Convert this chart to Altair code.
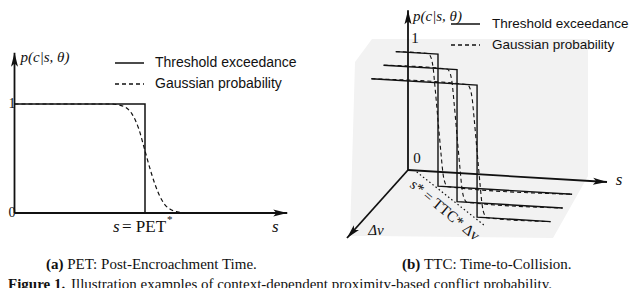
import altair as alt
import pandas as pd

# ---------------- values ----------------
SERIES = ["Threshold exceedance", "Gaussian probability"]

# (a) PET panel: s measured in units of PET*, p = p(c|s,theta)
PET_STAR = 1.0
A_THRESH_S = [0.0, 1.0, 1.0]
A_THRESH_P = [1.0, 1.0, 0.0]
A_GAUSS_S = [0.0, 0.75, 0.80, 0.85, 0.90, 0.95, 1.00, 1.05, 1.10, 1.15, 1.20, 1.25, 1.30]
A_GAUSS_P = [1.0, 1.0, 0.99, 0.97, 0.91, 0.78, 0.57, 0.36, 0.19, 0.08, 0.03, 0.01, 0.0]
A_S_MAX = 2.09
A_P_MAX = 1.47

# (b) TTC panel: three delta-v slices (s, dv, p in relative units)
B_DV = [0.2, 0.4, 0.6]
B_S_STAR = [0.212, 0.369, 0.531]
B_S_END = [0.886, 0.90, 0.90]
B_GAUSS_S = [
    [0.0, 0.162, 0.177, 0.187, 0.197, 0.212, 0.227, 0.237, 0.247, 0.262, 0.886],
    [0.0, 0.319, 0.334, 0.344, 0.354, 0.369, 0.384, 0.394, 0.404, 0.419, 0.900],
    [0.0, 0.481, 0.496, 0.506, 0.516, 0.531, 0.546, 0.556, 0.566, 0.581, 0.900],
]
B_GAUSS_P = [1.0, 1.0, 0.97, 0.90, 0.75, 0.50, 0.25, 0.10, 0.03, 0.0, 0.0]
B_TTC_LINE_S = [0.05, 0.61]
B_TTC_LINE_DV = [0.02, 0.72]
B_AXIS_MAX = {"s": 1.0, "dv": 1.0, "p": 1.21}

# light grey box behind panel (b), in projected units
BOX_X = [-58, -53, -36, 145, 180]
BOX_TOP = [-66, 108, 131, 131, 131]
BOX_BOT = [-66, -66, -66, -68, -6]

CAPTION_A = ("(a)", "PET: Post-Encroachment Time.")
CAPTION_B = ("(b)", "TTC: Time-to-Collision.")
FIG_TEXT = ("Figure 1.", "Illustration examples of context-dependent proximity-based conflict probability.")

# ---------------- styling ----------------
W, H = 624, 280
INK = "#111111"
SERIF = "Liberation Serif"
SANS = "Liberation Sans"
ARROW = "M0,0L-0.5,2L0,1.55L0.5,2Z"
DASH = [4, 3]


def lin_scale(origin_px, px_per_unit, length, flip=False):
    if flip:
        lo = -(length - origin_px) / px_per_unit
        hi = origin_px / px_per_unit
    else:
        lo = -origin_px / px_per_unit
        hi = (length - origin_px) / px_per_unit
    return alt.Scale(domain=[lo, hi], nice=False, zero=False)


# ---------------- panel (a) ----------------
A_XS = lin_scale(6.5, 130.5, W)
A_YS = lin_scale(205, 109, H, flip=True)
AX = alt.X("s:Q", scale=A_XS, axis=None)
AY = alt.Y("p:Q", scale=A_YS, axis=None)

a_axes = pd.DataFrame({
    "axis": ["p", "p", "s", "s"],
    "i": [0, 1, 0, 1],
    "s": [0, 0, 0, A_S_MAX],
    "p": [0, A_P_MAX, 0, 0],
})
a_arrows = pd.DataFrame({"s": [0, A_S_MAX], "p": [A_P_MAX, 0], "ang": [0, 90]})
a_thr = pd.DataFrame({"s": A_THRESH_S, "p": A_THRESH_P, "i": range(len(A_THRESH_S))})
a_gau = pd.DataFrame({"s": A_GAUSS_S, "p": A_GAUSS_P, "i": range(len(A_GAUSS_S))})
a_anchor = pd.DataFrame({"s": [PET_STAR], "p": [0.0]})
a_ticks = pd.DataFrame({"s": [A_XS.domain[0]] * 2, "p": [1.0, 0.0], "t": ["1", "0"]})

panel_a = alt.layer(
    alt.Chart(a_axes).mark_line(color=INK, strokeWidth=1.8).encode(AX, AY, detail="axis:N", order="i:Q"),
    alt.Chart(a_arrows).mark_point(shape=ARROW, filled=True, size=196, color=INK, opacity=1, strokeWidth=0)
    .encode(AX, AY, angle=alt.Angle("ang:Q", scale=None)),
    alt.Chart(a_gau).mark_line(color=INK, strokeWidth=1.2, strokeDash=DASH, interpolate="monotone")
    .encode(AX, AY, order="i:Q"),
    alt.Chart(a_thr).mark_line(color=INK, strokeWidth=1.5).encode(AX, AY, order="i:Q"),
    alt.Chart(a_ticks).mark_text(font=SERIF, fontSize=14, align="left", baseline="middle", dx=0.5, color=INK)
    .encode(AX, AY, text="t:N"),
    alt.Chart(pd.DataFrame({"s": [0.0], "p": [A_P_MAX]})).mark_text(
        font=SERIF, fontSize=15, fontStyle="italic", align="left", baseline="middle", dx=6, dy=4, color=INK)
    .encode(AX, AY, text=alt.value("p(c|s, θ)")),
    alt.Chart(a_anchor).mark_text(font=SERIF, fontSize=17, fontStyle="italic", align="left",
                                  baseline="middle", dx=-32, dy=14, color=INK).encode(AX, AY, text=alt.value("s")),
    alt.Chart(a_anchor).mark_text(font=SERIF, fontSize=17, align="left",
                                  baseline="middle", dx=-23, dy=14, color=INK).encode(AX, AY, text=alt.value("= PET")),
    alt.Chart(a_anchor).mark_text(font=SERIF, fontSize=11, align="left",
                                  baseline="middle", dx=22, dy=7, color=INK).encode(AX, AY, text=alt.value("*")),
    alt.Chart(pd.DataFrame({"s": [A_S_MAX], "p": [0.0]})).mark_text(
        font=SERIF, fontSize=17, fontStyle="italic", align="center", baseline="middle", dx=-12, dy=14, color=INK)
    .encode(AX, AY, text=alt.value("s")),
)

# ---------------- panel (b) ----------------
B_XS = lin_scale(400, 1, W)
B_YS = lin_scale(162, 1, H, flip=True)
BX = alt.X("X:Q", scale=B_XS, axis=None)
BY = alt.Y("Y:Q", scale=B_YS, axis=None)
PX = "199*datum.s - 61*datum.dv"
PY = "132*datum.p - 12*datum.s - 68*datum.dv"


def proj(df):
    return alt.Chart(df).transform_calculate(X=PX, Y=PY)


thr_rows, gau_rows = [], []
for k, dv in enumerate(B_DV):
    for i, (s, p) in enumerate(zip([0.0, B_S_STAR[k], B_S_STAR[k], B_S_END[k]], [1, 1, 0, 0])):
        thr_rows.append({"sheet": k, "i": i, "s": s, "dv": dv, "p": p})
    for i, (s, p) in enumerate(zip(B_GAUSS_S[k], B_GAUSS_P)):
        gau_rows.append({"sheet": k, "i": i, "s": s, "dv": dv, "p": p})
b_thr = pd.DataFrame(thr_rows)
b_gau = pd.DataFrame(gau_rows)

b_axes = pd.DataFrame({
    "axis": ["p", "p", "s", "s", "dv", "dv"],
    "i": [0, 1] * 3,
    "s": [0, 0, 0, B_AXIS_MAX["s"], 0, 0],
    "dv": [0, 0, 0, 0, 0, B_AXIS_MAX["dv"]],
    "p": [0, B_AXIS_MAX["p"], 0, 0, 0, 0],
})
b_arrows = pd.DataFrame({
    "s": [0, B_AXIS_MAX["s"], 0],
    "dv": [0, 0, B_AXIS_MAX["dv"]],
    "p": [B_AXIS_MAX["p"], 0, 0],
    "ang": [0, 93.5, 222],
})
b_ttc = pd.DataFrame({"s": B_TTC_LINE_S, "dv": B_TTC_LINE_DV, "p": [0, 0], "i": [0, 1]})
b_box = pd.DataFrame({"X": BOX_X, "top": BOX_TOP, "bot": BOX_BOT})


def b_label(s, dv, p, text, dx=0, dy=0, size=15, style="normal", align="center", angle=0):
    return proj(pd.DataFrame({"s": [s], "dv": [dv], "p": [p]})).mark_text(
        font=SERIF, fontSize=size, fontStyle=style, align=align, baseline="middle",
        dx=dx, dy=dy, angle=angle, color=INK).encode(BX, BY, text=alt.value(text))


panel_b = alt.layer(
    alt.Chart(b_box).mark_area(color="#f2f2f2").encode(
        x=alt.X("X:Q", scale=B_XS, axis=None),
        y=alt.Y("top:Q", scale=B_YS, axis=None), y2="bot:Q"),
    proj(b_ttc).mark_line(color=INK, strokeWidth=1.2, strokeDash=[1.5, 2.5]).encode(BX, BY, order="i:Q"),
    proj(b_axes).mark_line(color=INK, strokeWidth=1.8).encode(BX, BY, detail="axis:N", order="i:Q"),
    proj(b_arrows).mark_point(shape=ARROW, filled=True, size=196, color=INK, opacity=1, strokeWidth=0)
    .encode(BX, BY, angle=alt.Angle("ang:Q", scale=None)),
    proj(b_gau).mark_line(color=INK, strokeWidth=1.1, strokeDash=DASH, interpolate="monotone")
    .encode(BX, BY, detail="sheet:N", order="i:Q"),
    proj(b_thr).mark_line(color=INK, strokeWidth=1.4).encode(BX, BY, detail="sheet:N", order="i:Q"),
    b_label(0, 0, 1, "1", dx=7),
    b_label(0, 0, 0, "0", dx=9, dy=-12),
    b_label(0, 0, B_AXIS_MAX["p"], "p(c|s, θ)", dx=5, dy=6, style="italic", align="left"),
    b_label(B_AXIS_MAX["s"], 0, 0, "s", dx=12, dy=-2, size=17, style="italic"),
    b_label(0, B_AXIS_MAX["dv"], 0, "Δv", dx=29, dy=-8, style="italic"),
    b_label(0.3475, 0.527, 0, "s* = TTC* Δv", angle=40),
)

# ---------------- legends, captions ----------------


def legend(x0, y0, size, gap):
    layers = []
    for j, name in enumerate(SERIES):
        y = y0 + 21 * j
        layers.append(alt.Chart().mark_rule(color=INK, strokeWidth=1.4, strokeDash=[1, 0] if j == 0 else DASH)
                      .encode(x=alt.value(x0), x2=alt.value(x0 + 29), y=alt.value(y)))
        layers.append(alt.Chart().mark_text(font=SANS, fontSize=size, align="left", baseline="middle", color=INK)
                      .encode(x=alt.value(x0 + gap), y=alt.value(y), text=alt.value(name)))
    return layers


def caption(x, y, bold, rest, gap):
    return [
        alt.Chart().mark_text(font=SERIF, fontSize=15, fontWeight="bold", align="left", baseline="alphabetic",
                              color=INK).encode(x=alt.value(x), y=alt.value(y), text=alt.value(bold)),
        alt.Chart().mark_text(font=SERIF, fontSize=15, align="left", baseline="alphabetic", color=INK)
        .encode(x=alt.value(x + gap), y=alt.value(y), text=alt.value(rest)),
    ]


extras = (legend(107, 55, 14, 40) + legend(443, 16, 13.5, 41)
          + caption(38, 261, CAPTION_A[0], CAPTION_A[1], 21.2)
          + caption(394, 261, CAPTION_B[0], CAPTION_B[1], 22.1)
          + caption(0, 281, FIG_TEXT[0], FIG_TEXT[1], 63))

chart = alt.layer(panel_b, panel_a, *extras).resolve_scale(
    x="independent", y="independent"
).properties(
    width=W, height=H, padding=0, autosize=alt.AutoSizeParams(type="none")
).configure_view(stroke=None)

chart.save("out.html", embed_options={"renderer": "svg", "actions": False})
